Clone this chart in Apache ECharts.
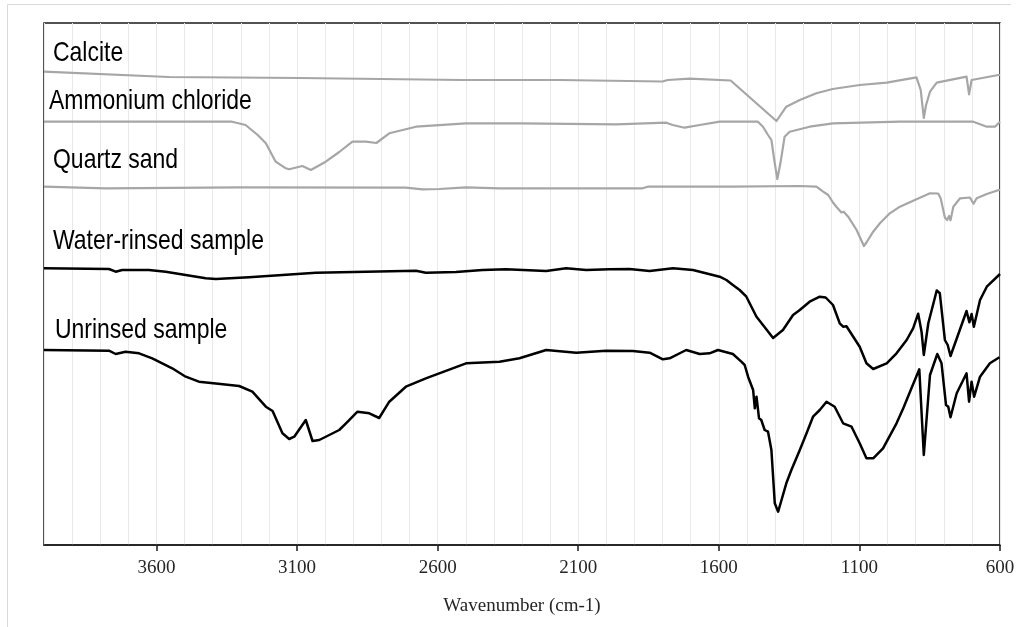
<!DOCTYPE html>
<html>
<head>
<meta charset="utf-8">
<script src="https://cdn.jsdelivr.net/npm/echarts@6/dist/echarts.min.js"></script>
<style>
html,body{margin:0;padding:0;background:#fff;}
#chart{width:1019px;height:627px;}
</style>
</head>
<body>
<div id="chart"></div>
<script>
// FTIR spectra, offset transmittance (arbitrary units) vs wavenumber (cm-1)
const seriesNames = ['Calcite', 'Ammonium chloride', 'Quartz sand', 'Water-rinsed sample', 'Unrinsed sample'];
const tickValues = [600, 1100, 1600, 2100, 2600, 3100, 3600];

const calcite = [[4000,473.3],[3556,468],[3093,467],[2512,465],[2167,465],[1800,463.5],[1782,465],[1704,466.3],[1558,464.5],[1395,424],[1360,438.3],[1312,445],[1253,451.7],[1195,456],[1099,460],[1003,462.3],[897,467.7],[882,455],[871,427],[863,440],[849,453.3],[825,462.3],[719,468.3],[710,450.7],[701,465],[606,470],[600,470]];

const ammoniumChloride = [[4000,423.3],[3331,423.3],[3283,420],[3240,410],[3211,401.7],[3176,383.3],[3140,376.7],[3128,375.7],[3081,379],[3051,375],[2998,383.3],[2950,393],[2903,403.3],[2855,403.3],[2818,402],[2772,411.7],[2677,418.3],[2499,421.7],[2309,421.7],[1965,420.7],[1787,422.3],[1764,420],[1722,417.3],[1668,420],[1597,423.3],[1461,423.3],[1443,418.3],[1425,410],[1413,405],[1401,381.7],[1392,366],[1381,381.7],[1366,408.3],[1348,413.3],[1277,418.3],[1194,421.7],[956,423.3],[695,423.3],[647,418.3],[618,418.3],[600,423.3]];

const quartzSand = [[4000,358.3],[3781,356.7],[3306,357.7],[2713,357.3],[2654,355.7],[2594,356],[2499,357.7],[2380,356.7],[1871,356.7],[1853,358.3],[1551,358.3],[1312,359],[1253,358.3],[1229,353.3],[1211,350],[1194,342.5],[1182,338.3],[1164,332.5],[1156,333.3],[1140,328.3],[1110,315],[1084,299],[1075,302.5],[1051,313.3],[1027,321.7],[992,331.7],[956,338.3],[897,345.7],[849,351.7],[820,351.5],[811,346.7],[796,327.5],[788,325],[781,329],[776,324.7],[766,338.3],[742,346.7],[707,347.5],[694,341.3],[683,346.7],[647,351],[604,355],[600,355]];

const waterRinsed = [[4000,276.7],[3769,276],[3745,273.3],[3722,275],[3627,275],[3567,273.3],[3496,270],[3425,266.7],[3389,266],[3271,267.7],[3152,270],[3033,272.3],[2677,274.3],[2642,272.3],[2535,273],[2440,275],[2357,275.7],[2214,274],[2143,276.7],[2072,275],[1989,275.7],[1918,276],[1846,274],[1763,276.7],[1692,275],[1597,268.3],[1573,265],[1550,260],[1526,255],[1502,248.3],[1466,228.3],[1443,220],[1407,207],[1372,215],[1336,230],[1312,235],[1277,243.3],[1241,248.3],[1220,247.5],[1194,240],[1170,221.7],[1158,218.3],[1146,218.7],[1099,198.3],[1075,181.7],[1051,176],[1003,181.7],[968,191.7],[932,205],[909,216.7],[891,231.3],[879,213.3],[871,190],[855,221.7],[825,254.5],[814,251.7],[796,205],[786,200],[776,189],[719,234],[709,222.7],[701,231],[693,218.3],[671,245],[647,258.3],[600,271]];

const unrinsed = [[4000,195],[3769,194.3],[3745,191],[3710,193.3],[3662,191.7],[3615,186.7],[3544,176.7],[3496,168.3],[3449,163.3],[3389,161.5],[3306,159],[3259,153.3],[3211,138.3],[3187,134],[3152,111.7],[3128,106],[3110,108.3],[3069,125],[3045,104],[3021,105],[2950,115],[2926,121.7],[2885,133.3],[2843,131.7],[2808,127],[2772,143.3],[2713,158.3],[2642,166.7],[2499,181.7],[2380,183.3],[2309,186.7],[2214,195],[2107,192.3],[2001,194.3],[1906,194],[1846,192.3],[1799,185.7],[1775,186.7],[1716,195],[1668,191],[1633,191.7],[1603,195],[1550,191],[1520,183.3],[1508,180],[1496,168.3],[1478,155],[1472,136.7],[1466,148.3],[1457,126.7],[1449,125],[1437,115],[1425,113.3],[1413,95],[1401,41.7],[1389,33.3],[1377,45],[1360,61.7],[1342,75],[1312,95],[1288,111.7],[1265,128.3],[1241,135],[1217,143.3],[1188,138.3],[1158,121.7],[1128,118.3],[1099,101.7],[1075,86.7],[1051,86.7],[1016,96.7],[968,121.7],[944,136.7],[920,153.3],[887,175.7],[871,90],[849,170],[823,191],[808,181.7],[792,140],[784,138.3],[776,127.7],[754,151.7],[719,171.7],[710,143.3],[701,163.3],[692,148.3],[671,168.3],[636,181.7],[602,187.7],[600,187.5]];

const spectra = [calcite, ammoniumChloride, quartzSand, waterRinsed, unrinsed];
const seriesColors = ['#a6a6a6', '#a6a6a6', '#a6a6a6', '#000000', '#000000'];
const seriesWidths = [2.2, 2.2, 2.2, 2.5, 2.5];
// label layout (pixels): left x, vertical centre y
const labelLayout = [[53, 53.5], [49, 101.7], [53, 160], [53, 241.7], [55, 330]];

const chart = echarts.init(document.getElementById('chart'), null, {renderer: 'canvas'});

const series = spectra.map((d, i) => ({
  name: seriesNames[i],
  type: 'line',
  data: d,
  xAxisIndex: 0,
  showSymbol: false,
  symbol: 'none',
  smooth: false,
  lineStyle: {color: seriesColors[i], width: seriesWidths[i], join: 'round'},
  itemStyle: {color: seriesColors[i]},
  z: 3
}));

const labelGraphics = seriesNames.map((n, i) => ({
  type: 'text',
  x: labelLayout[i][0],
  y: labelLayout[i][1],
  scaleX: 0.82,
  z: 10,
  style: {
    text: n,
    fontSize: 28,
    fontFamily: '"Liberation Sans", Arial, sans-serif',
    fill: '#000',
    align: 'left',
    verticalAlign: 'middle'
  }
}));

const option = {
  animation: false,
  backgroundColor: '#ffffff',
  grid: {left: 44, right: 19, top: 23, bottom: 82, show: true, borderColor: '#1a1a1a', borderWidth: 1.5, backgroundColor: 'transparent'},
  xAxis: [
    {
      type: 'value', min: 600, max: 4000, interval: 500, inverse: true, position: 'bottom',
      axisLine: {show: true, onZero: false, lineStyle: {color: '#1a1a1a', width: 1.5}},
      axisTick: {show: true, length: 6, customValues: tickValues, lineStyle: {color: '#1a1a1a', width: 1.5}},
      axisLabel: {
        margin: 14, fontFamily: '"Liberation Serif", "Times New Roman", serif', fontSize: 19, color: '#262626',
        customValues: tickValues,
        formatter: v => tickValues.indexOf(v) >= 0 ? String(v) : ''
      },
      splitLine: {show: false},
      name: 'Wavenumber (cm-1)', nameLocation: 'middle', nameGap: 52,
      nameTextStyle: {fontFamily: '"Liberation Serif", "Times New Roman", serif', fontSize: 19, color: '#262626'}
    },
    {
      type: 'value', min: 600, max: 4000, interval: 100, inverse: true, position: 'bottom',
      axisLine: {show: false}, axisTick: {show: false}, axisLabel: {show: false},
      splitLine: {show: true, lineStyle: {color: '#e9e9e9', width: 1}}
    }
  ],
  yAxis: {
    type: 'value', min: 0, max: 522, show: true,
    axisLine: {show: false}, axisTick: {show: false}, axisLabel: {show: false}, splitLine: {show: false}
  },
  graphic: [
    {type: 'polyline', z: -1, silent: true, shape: {points: [[1011, 4.5], [7.5, 4.5], [7.5, 627]]}, style: {fill: 'none', stroke: '#d9d9d9', lineWidth: 1}}
  ].concat(labelGraphics),
  series: series
};

chart.setOption(option);
</script>
</body>
</html>
